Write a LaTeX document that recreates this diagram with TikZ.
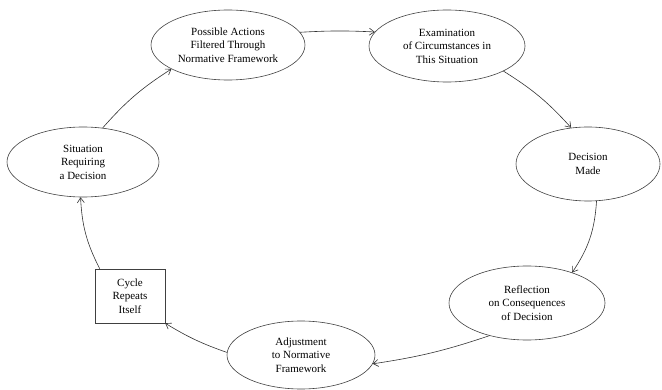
\documentclass[tikz,border=0pt]{standalone}
\usepackage{fontspec}
\setmainfont{Liberation Serif}
\usetikzlibrary{arrows.meta,shapes.geometric,calc}
\begin{document}
\begin{tikzpicture}[x=1pt,y=-1pt,
  stage/.style={ellipse,draw=black!75,line width=0.6pt,inner sep=0pt,align=center,
    font=\fontsize{11}{13.5}\selectfont},
  cyclebox/.style={rectangle,draw=black!75,line width=0.6pt,inner sep=0pt,align=center,
    minimum width=70pt,minimum height=54pt,font=\fontsize{11}{13.5}\selectfont},
  flow/.style={draw=black!80,line width=0.6pt,-{Straight Barb[length=5pt,width=7pt]}}]
\useasboundingbox (0,0) rectangle (662,390);
\node[stage,minimum width=154pt,minimum height=70pt] (pa) at (228,45) {Possible Actions\\Filtered Through\\Normative Framework};
\node[stage,minimum width=156pt,minimum height=72pt] (ex) at (447,46) {Examination\\of Circumstances in\\This Situation};
\node[stage,minimum width=144pt,minimum height=74pt] (dm) at (588,164) {Decision\\Made};
\node[stage,minimum width=156pt,minimum height=74pt] (rf) at (527,303) {Reflection\\on Consequences\\of Decision};
\node[stage,minimum width=148pt,minimum height=68pt] (ad) at (301,355) {Adjustment\\to Normative\\Framework};
\node[stage,minimum width=152pt,minimum height=70pt] (st) at (83,162) {Situation\\Requiring\\a Decision};
\node[cyclebox] (cy) at (130,296) {Cycle\\Repeats\\Itself};
\draw[flow] (st.60) to[bend left=8] (pa.203);
\draw[flow] (pa.10) to[bend left=3] (ex.169);
\draw[flow] (ex.-24) to[bend left=8] (dm.115);
\draw[flow] (dm.-77) to[bend left=15] (rf.34);
\draw[flow] (rf.221) to[bend left=5] (ad.-7);
\draw[flow] (ad.178) to[bend left=6] (cy.south east);
\draw[flow] ($(cy.north west)+(5,0)$) to[bend left=12] (st.-94);
\end{tikzpicture}
\end{document}
